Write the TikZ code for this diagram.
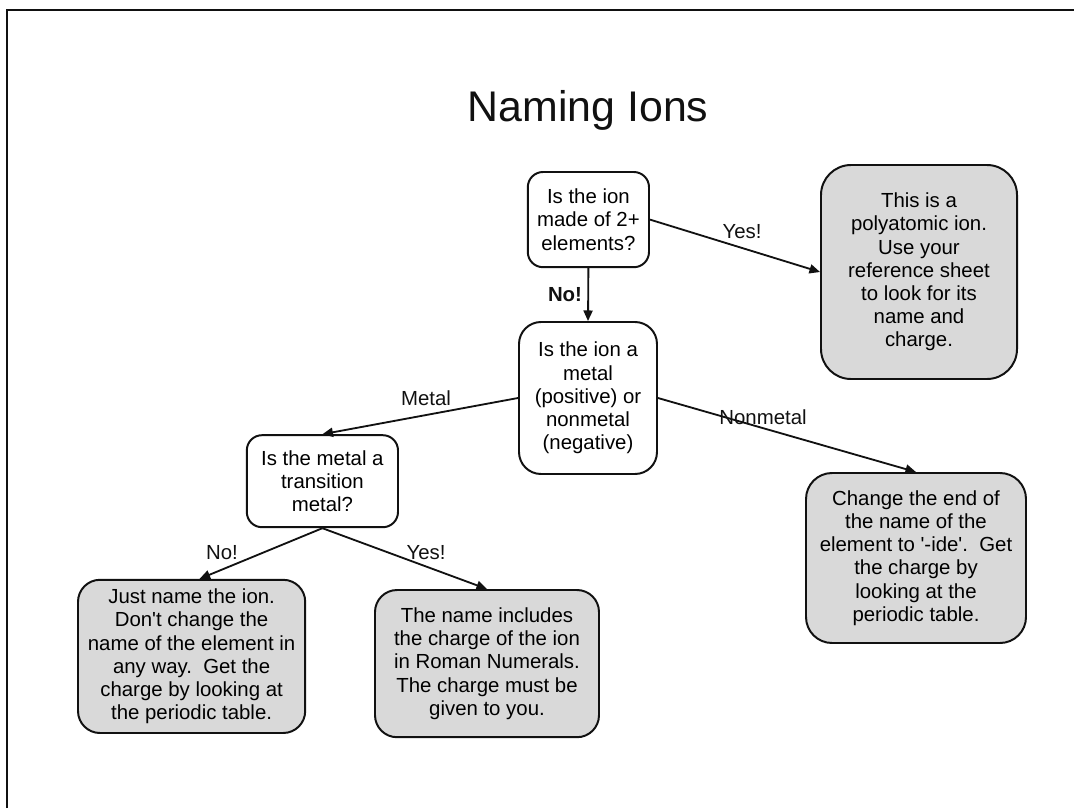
\documentclass[tikz,border=0pt]{standalone}
\usepackage{fontspec}
\setmainfont{Liberation Sans}
\usepackage{tikz}
\usetikzlibrary{arrows.meta,positioning}
\definecolor{ink}{HTML}{111111}
\definecolor{shade}{HTML}{D9D9D9}
\newcommand{\bodysize}{\fontsize{14.5}{16.5}\selectfont}
\newcommand{\sq}{\textquotesingle}

\begin{document}
\begin{tikzpicture}[font=\bodysize,
    ask/.style={draw=ink,fill=white,line width=1.4pt,align=center,inner sep=0pt,rounded corners=0.38cm},
    tell/.style={ask,fill=shade,rounded corners=0.55cm},
    flow/.style={draw=ink,line width=1.3pt,-{Triangle[length=7.5pt,width=6.5pt]}},
    tag/.style={color=ink,inner sep=1pt}]
  \useasboundingbox (0,0) rectangle (26.85,-20.2);
  \draw[ink,line width=1.4pt] (0.175,-20.2) -- (0.175,-0.25) -- (26.85,-0.25);

  \node[color=ink,font=\fontsize{30.5}{34}\selectfont] (title) at (14.7,-2.75) {Naming Ions};

  % questions
  \node[ask,minimum width=3.03cm,minimum height=2.38cm] (madeof) at (14.71,-5.49)
    {Is the ion\\made of 2+\\elements?};
  \node[ask,minimum width=3.45cm,minimum height=3.8cm,rounded corners=0.55cm] (metalq) at (14.7,-9.95)
    {Is the ion a\\metal\\(positive) or\\nonmetal\\(negative)};
  \node[ask,minimum width=3.78cm,minimum height=2.3cm] (transq) at (8.06,-12.03)
    {Is the metal a\\transition\\metal?};

  % answers
  \node[tell,minimum width=4.9cm,minimum height=5.35cm,rounded corners=0.75cm] (poly) at (22.975,-6.8)
    {This is a\\polyatomic ion.\\Use your\\reference sheet\\to look for its\\name and\\charge.};
  \node[tell,minimum width=5.5cm,minimum height=4.25cm,rounded corners=0.65cm] (ide) at (22.9,-13.95)
    {Change the end of\\the name of the\\element to \sq-ide\sq.\ \ Get\\the charge by\\looking at the\\periodic table.};
  \node[tell,minimum width=5.68cm,minimum height=3.83cm] (plain) at (4.79,-16.41)
    {Just name the ion.\\Don\sq t change the\\name of the element in\\any way.\ \ Get the\\charge by looking at\\the periodic table.};
  \node[tell,minimum width=5.6cm,minimum height=3.68cm] (roman) at (12.175,-16.59)
    {The name includes\\the charge of the ion\\in Roman Numerals.\\The charge must be\\given to you.};

  % connectors
  \draw[flow] (madeof.east) -- (poly.west);
  \draw[flow] (madeof.south) -- (metalq.north);
  \draw[flow] (metalq.west) -- (transq.north);
  \draw[flow] (metalq.east) -- (ide.north);
  \draw[flow] (transq.south) -- ([xshift=0.2cm]plain.north);
  \draw[flow] (transq.south) -- (roman.north);

  \node[tag] (yespoly) at (18.55,-5.8) {Yes!};
  \node[tag,font=\bodysize\bfseries] (nopoly) at (14.125,-7.375) {No!};
  \node[tag] (metal) at (10.65,-9.95) {Metal};
  \node[tag] (nonmetal) at (19.075,-10.425) {Nonmetal};
  \node[tag] (notrans) at (5.55,-13.825) {No!};
  \node[tag] (yestrans) at (10.65,-13.825) {Yes!};
\end{tikzpicture}
\end{document}
